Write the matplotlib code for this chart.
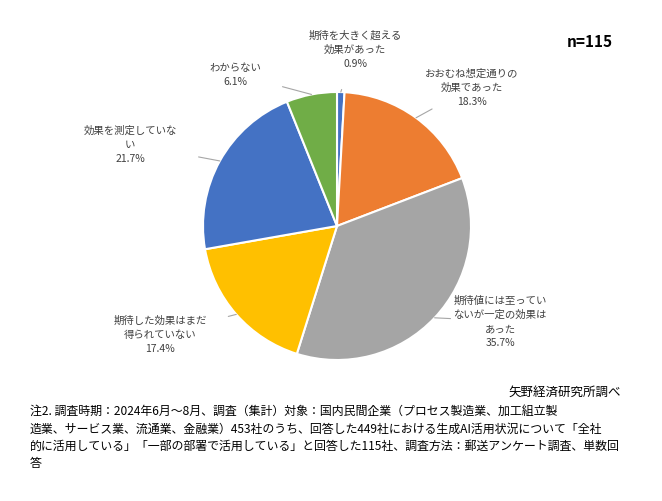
import matplotlib.pyplot as plt
import numpy as np

plt.rcParams['font.family'] = 'Noto Sans CJK JP'

labels = ['期待を大きく超える\n効果があった', 'おおむね想定通りの\n効果であった',
          '期待値には至ってい\nないが一定の効果は\nあった', '期待した効果はまだ\n得られていない',
          '効果を測定していな\nい', 'わからない']
values = [0.9, 18.3, 35.7, 17.4, 21.7, 6.1]
colors = ['#4472C4', '#ED7D31', '#A5A5A5', '#FFC000', '#4472C4', '#70AD47']
# label text centres in pixels
label_pos = [(355, 50), (472, 88), (500, 322), (160, 335), (130, 145), (235, 75)]

W, H = 662, 502
fig = plt.figure(figsize=(6.62, 5.02), dpi=100)
cx, cy, r = 337, 227, 134
ax = fig.add_axes([(cx - r) / W, (H - cy - r) / H, 2 * r / W, 2 * r / H])
wedges, _ = ax.pie(values, colors=colors, startangle=90, counterclock=False,
                   wedgeprops=dict(edgecolor='white', linewidth=1.5))
ax.set_xlim(-1, 1)
ax.set_ylim(-1, 1)
ax.set_aspect('equal')

for w, lab, v, (px, py) in zip(wedges, labels, values, label_pos):
    ang = np.deg2rad((w.theta1 + w.theta2) / 2)
    tx, ty = px / W, 1 - py / H
    ax.annotate(f'{lab}\n{v}%', xy=(np.cos(ang), np.sin(ang)), xycoords='data',
                xytext=(tx, ty), textcoords='figure fraction',
                ha='center', va='center', fontsize=7.5, color='#404040',
                linespacing=1.5, annotation_clip=False,
                arrowprops=dict(arrowstyle='-', color='#A6A6A6', lw=0.8,
                                shrinkA=14, shrinkB=0))

fig.text(590 / W, 1 - 42 / H, 'n=115', ha='center', va='center', fontsize=11, fontweight='bold')
fig.text(565 / W, 1 - 392 / H, '矢野経済研究所調べ', ha='center', va='center', fontsize=9)
note = ('注2. 調査時期：2024年6月～8月、調査（集計）対象：国内民間企業（プロセス製造業、加工組立製\n'
        '造業、サービス業、流通業、金融業）453社のうち、回答した449社における生成AI活用状況について「全社\n'
        '的に活用している」「一部の部署で活用している」と回答した115社、調査方法：郵送アンケート調査、単数回\n'
        '答')
fig.text(30 / W, 1 - 405 / H, note, ha='left', va='top', fontsize=8.6, linespacing=1.45)

fig.savefig('out.png', dpi=100)
